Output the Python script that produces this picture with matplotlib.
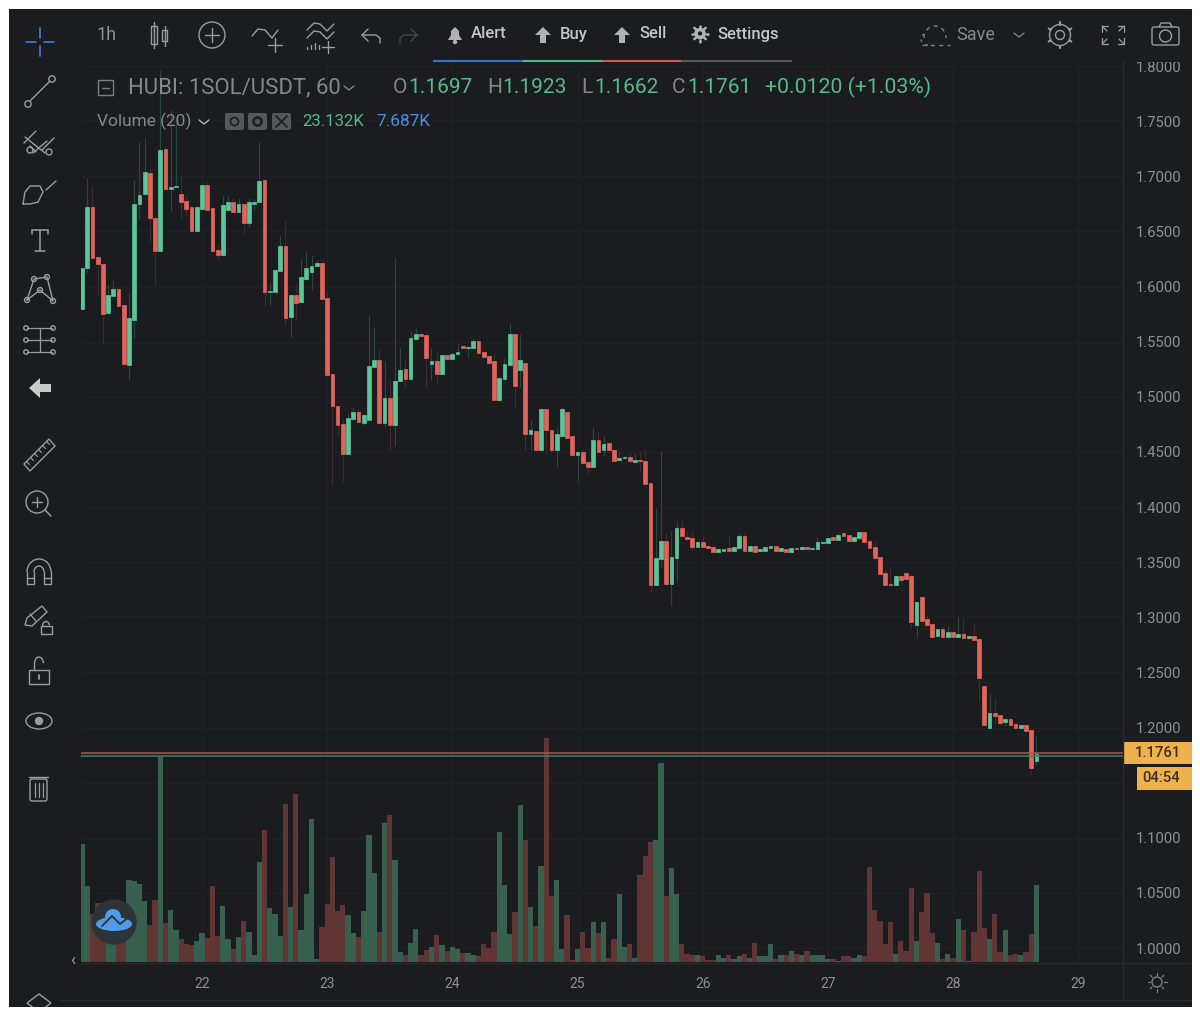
import numpy as np
import matplotlib
matplotlib.use("Agg")
import matplotlib.pyplot as plt
from matplotlib.patches import Rectangle, Circle, FancyBboxPatch, Polygon, Ellipse, Arc

plt.rcParams['font.family'] = ['Roboto', 'DejaVu Sans']

opens = [1.580,1.6165,1.672,1.627,1.620,1.576,1.591,1.598,1.583,1.529,
1.570,1.675,1.684,1.703,1.662,1.632,1.725,1.688,1.690,1.684,
1.678,1.672,1.650,1.670,1.692,1.671,1.633,1.629,1.669,1.677,
1.668,1.675,1.658,1.675,1.677,1.697,1.595,1.595,1.614,1.637,
1.572,1.592,1.586,1.607,1.613,1.619,1.621,1.590,1.521,1.492,
1.475,1.448,1.480,1.486,1.476,1.479,1.527,1.533,1.476,1.499,
1.474,1.514,1.525,1.516,1.552,1.557,1.556,1.530,1.532,1.521,
1.538,1.534,1.539,1.546,1.544,1.544,1.551,1.541,1.537,1.532,
1.497,1.516,1.529,1.557,1.524,1.531,1.466,1.469,1.452,1.489,
1.470,1.452,1.464,1.486,1.464,1.447,1.450,1.441,1.436,1.461,
1.452,1.458,1.452,1.443,1.444,1.445,1.441,1.443,1.442,1.4215,
1.329,1.353,1.369,1.330,1.354,1.381,1.373,1.372,1.364,1.368,
1.365,1.364,1.359,1.360,1.363,1.360,1.363,1.374,1.360,1.365,
1.360,1.360,1.363,1.365,1.360,1.362,1.359,1.363,1.362,1.364,
1.362,1.362,1.367,1.367,1.373,1.370,1.376,1.375,1.369,1.372,
1.377,1.369,1.364,1.355,1.340,1.330,1.329,1.337,1.340,1.337,
1.293,1.318,1.298,1.294,1.283,1.289,1.282,1.287,1.282,1.285,
1.281,1.283,1.280,1.238,1.200,1.213,1.211,1.205,1.208,1.203,
1.200,1.202,1.198,1.1697]
closes = [1.6165,1.672,1.626,1.620,1.575,1.592,1.598,1.582,1.530,1.571,
1.675,1.683,1.704,1.662,1.632,1.724,1.688,1.690,1.691,1.677,
1.670,1.650,1.672,1.692,1.669,1.632,1.629,1.674,1.677,1.668,
1.675,1.658,1.677,1.677,1.696,1.595,1.596,1.615,1.637,1.571,
1.592,1.585,1.609,1.617,1.619,1.621,1.589,1.520,1.492,1.474,
1.448,1.481,1.486,1.477,1.483,1.528,1.533,1.476,1.499,1.474,
1.514,1.524,1.516,1.553,1.557,1.555,1.535,1.532,1.521,1.538,
1.534,1.539,1.541,1.544,1.545,1.551,1.540,1.536,1.531,1.497,
1.517,1.530,1.557,1.510,1.533,1.466,1.470,1.452,1.489,1.470,
1.452,1.466,1.489,1.463,1.447,1.450,1.440,1.436,1.461,1.450,
1.457,1.452,1.442,1.444,1.445,1.442,1.443,1.442,1.421,1.329,
1.354,1.369,1.330,1.355,1.381,1.374,1.371,1.364,1.368,1.364,
1.363,1.359,1.362,1.362,1.360,1.364,1.374,1.360,1.365,1.359,
1.362,1.364,1.365,1.360,1.363,1.359,1.363,1.362,1.364,1.362,
1.363,1.368,1.368,1.372,1.370,1.375,1.374,1.369,1.373,1.377,
1.368,1.363,1.354,1.339,1.329,1.329,1.337,1.334,1.335,1.296,
1.314,1.297,1.293,1.282,1.289,1.282,1.287,1.282,1.285,1.281,
1.283,1.279,1.245,1.202,1.213,1.210,1.204,1.208,1.202,1.200,
1.202,1.197,1.163,1.1761]
highs = [1.6165,1.698,1.690,1.628,1.620,1.601,1.606,1.598,1.583,1.594,
1.697,1.731,1.735,1.708,1.662,1.796,1.727,1.760,1.755,1.701,
1.683,1.672,1.672,1.692,1.695,1.671,1.639,1.682,1.682,1.680,
1.680,1.676,1.680,1.679,1.731,1.697,1.603,1.615,1.646,1.660,
1.592,1.602,1.625,1.631,1.629,1.624,1.621,1.594,1.521,1.492,
1.480,1.484,1.491,1.489,1.484,1.574,1.563,1.544,1.532,1.514,
1.626,1.544,1.534,1.559,1.562,1.558,1.556,1.544,1.541,1.538,
1.538,1.540,1.549,1.546,1.546,1.552,1.551,1.541,1.538,1.539,
1.517,1.535,1.567,1.557,1.557,1.531,1.480,1.469,1.491,1.489,
1.470,1.473,1.491,1.486,1.464,1.450,1.452,1.441,1.473,1.468,
1.464,1.458,1.452,1.451,1.446,1.449,1.449,1.450,1.452,1.4215,
1.399,1.451,1.376,1.378,1.387,1.387,1.378,1.378,1.368,1.374,
1.365,1.364,1.362,1.362,1.375,1.364,1.376,1.376,1.365,1.365,
1.362,1.364,1.365,1.365,1.363,1.362,1.363,1.363,1.364,1.364,
1.363,1.373,1.368,1.372,1.374,1.376,1.377,1.375,1.373,1.378,
1.377,1.370,1.370,1.355,1.344,1.346,1.338,1.338,1.341,1.339,
1.314,1.318,1.302,1.294,1.289,1.291,1.292,1.287,1.3005,1.299,
1.283,1.294,1.280,1.238,1.230,1.227,1.212,1.209,1.209,1.204,
1.202,1.202,1.198,1.1923]
lows = [1.580,1.612,1.626,1.592,1.548,1.575,1.591,1.582,1.529,1.515,
1.553,1.660,1.683,1.640,1.601,1.632,1.688,1.668,1.690,1.661,
1.663,1.650,1.650,1.670,1.669,1.632,1.624,1.629,1.669,1.668,
1.668,1.647,1.654,1.669,1.677,1.582,1.583,1.595,1.614,1.565,
1.554,1.570,1.586,1.607,1.597,1.619,1.589,1.520,1.420,1.464,
1.423,1.448,1.480,1.477,1.474,1.479,1.527,1.476,1.473,1.452,
1.455,1.514,1.508,1.516,1.552,1.555,1.508,1.515,1.512,1.521,
1.534,1.534,1.539,1.544,1.536,1.544,1.540,1.536,1.531,1.497,
1.497,1.516,1.529,1.489,1.508,1.452,1.452,1.452,1.452,1.450,
1.450,1.436,1.464,1.463,1.447,1.424,1.440,1.429,1.436,1.450,
1.446,1.452,1.442,1.443,1.444,1.442,1.441,1.432,1.421,1.322,
1.329,1.346,1.330,1.310,1.332,1.374,1.369,1.361,1.364,1.364,
1.363,1.359,1.359,1.360,1.360,1.360,1.363,1.360,1.360,1.359,
1.360,1.360,1.363,1.360,1.360,1.359,1.359,1.362,1.362,1.362,
1.362,1.362,1.367,1.367,1.370,1.370,1.374,1.369,1.369,1.372,
1.368,1.363,1.354,1.339,1.329,1.329,1.329,1.331,1.335,1.290,
1.281,1.297,1.292,1.282,1.283,1.282,1.282,1.282,1.282,1.281,
1.281,1.279,1.223,1.202,1.200,1.204,1.202,1.201,1.202,1.200,
1.200,1.197,1.158,1.1662]
volumes = [35.5,22.7,14.5,17.7,17.7,13.5,12,12.5,13,24.7,
24.3,23.5,18.2,11.2,18.5,61.8,11.7,15.7,9.5,7,
5.5,5,6.3,8.7,7.1,22.8,7.9,16.8,7,3.8,
7.5,12.4,9.1,2,30.1,39.7,16.1,14.5,7.9,47.4,
16.5,50.4,9.5,20.3,42.9,0.8,10.4,17.5,31.4,15.3,
17,14.1,8.7,7.5,15.3,38,26.8,9.1,41.7,44.1,
30.5,2.9,2.2,5.8,9.8,2,3.7,4.5,8.2,5,
3.3,4.5,3.8,2.8,2.8,2,1.7,5.4,4.2,9.1,
39.1,23.1,8.3,14.9,47,36.7,16.5,10.7,28.9,67.1,
19.8,24.7,3.8,14,0.5,3.8,9.1,4.1,12,8.7,
12,1.3,7,20.3,4.5,5.4,1.3,26,31.8,35.9,
36.7,59.7,19.8,28.1,20.3,5.4,2.5,2.1,2.1,1.7,
0.5,0.5,2.1,1.3,2.1,0.9,1.7,2.5,1.3,5.8,
1.7,1.7,5.3,0.8,2.1,2.1,3.3,2.5,2.1,3.3,
2.1,2.1,2.1,0.9,0.9,0.4,1.7,1.7,1.3,2.1,
1.7,28.5,15.7,12.4,5.4,12,2.5,6.2,3.3,22.3,
6.2,14.9,20.6,8.7,5.8,0.8,2.5,1.3,12.8,9.5,
0.4,9.1,27.2,10.3,7,14.4,2.9,9.5,2.1,2.5,
2.1,2.9,8.3,23.132]
price_ticks = [1.00,1.05,1.10,1.15,1.20,1.25,1.30,1.35,1.40,1.45,1.50,1.55,1.60,1.65,1.70,1.75,1.80]
price_tick_labels = ['1.0000','1.0500','1.1000','','1.2000','1.2500','1.3000','1.3500','1.4000',
                     '1.4500','1.5000','1.5500','1.6000','1.6500','1.7000','1.7500','1.8000']
day_labels = [22,23,24,25,26,27,28,29]
day_hours = [23,47,71,95,119,143,167,191]
last_close = 1.1761
close_line = 1.1770
open_line = 1.1745

BG = '#1a1c1f'; GRID = '#202326'; TXT = '#8d9094'; ICON = '#9a9c9f'
UP = '#5cc59a'; DOWN = '#e2645b'; UPW = '#2a473d'; DOWNW = '#452a2a'
UPV = '#37604f'; DOWNV = '#613534'

W, H = 1200, 1017
fig = plt.figure(figsize=(12, 10.17), dpi=100, facecolor='white')

def rect(l, t, r, b):
    return [l/W, 1-b/H, (r-l)/W, (b-t)/H]

bg = fig.add_axes([0,0,1,1], zorder=0)
bg.set_xlim(0,W); bg.set_ylim(H,0); bg.axis('off')
bg.add_patch(Rectangle((9,9),1183,998,fc=BG,ec='none'))

L,T,R,B = 81,62,1123,962
pos = rect(L,T,R,B)
xlim = (23+(L-202)/5.2155, 23+(R-202)/5.2155)
ylim = (1.8-(B-66)/1102.5, 1.8-(T-66)/1102.5)

ax = fig.add_axes(pos, zorder=1)
ax.patch.set_alpha(0)
ax.set_xlim(*xlim); ax.set_ylim(*ylim)
ax.yaxis.tick_right()
ax.set_yticks(price_ticks)
ax.set_yticklabels(price_tick_labels, color=TXT, fontsize=10.7)
ax.set_xticks(day_hours)
ax.set_xticklabels(day_labels, color=TXT, fontsize=10)
ax.tick_params(axis='y', length=0, pad=9)
ax.tick_params(axis='x', length=0, pad=10.5)
ax.grid(True, color=GRID, lw=0.9)
ax.set_axisbelow(True)
for s in ax.spines.values():
    s.set_visible(False)

xs = np.arange(len(closes))
o = np.array(opens); c = np.array(closes); h = np.array(highs); l_ = np.array(lows)
up = c >= o

axv = fig.add_axes(pos, zorder=2)
axv.patch.set_alpha(0); axv.axis('off')
axv.set_xlim(*xlim); axv.set_ylim(0, (B-T)/(10/3))
axv.bar(xs, volumes, width=1.0, color=[UPV if u else DOWNV for u in up], linewidth=0)

axc = fig.add_axes(pos, zorder=3)
axc.patch.set_alpha(0); axc.axis('off')
axc.set_xlim(*xlim); axc.set_ylim(*ylim)
axc.vlines(xs, l_, h, colors=[UPW if u else DOWNW for u in up], linewidth=0.85, zorder=1)
axc.bar(xs, np.abs(c-o), bottom=np.minimum(o,c), width=0.72,
        color=[UP if u else DOWN for u in up],
        edgecolor=[UP if u else DOWN for u in up], linewidth=0.5, zorder=2)
axc.axhline(close_line, color='#a65a4b', lw=1.1, zorder=3)
axc.axhline(open_line, color='#3f8063', lw=1.1, zorder=3)

ov = fig.add_axes([0,0,1,1], zorder=4)
ov.set_xlim(0,W); ov.set_ylim(H,0); ov.axis('off'); ov.patch.set_alpha(0)

# toolbar masks
ov.add_patch(Rectangle((9,9),1183,53,fc=BG,ec='none'))
ov.add_patch(Rectangle((9,9),72,998,fc=BG,ec='none'))
ov.plot([R,R],[62,1000],color='#292c2f',lw=1)
ov.plot([60,1190],[1000,1000],color='#2b2e31',lw=1)
ov.plot([81,1190],[963,963],color='#26292c',lw=1)

def ln(xs_, ys_, col=ICON, lw=1.0, **k):
    ov.plot(xs_, ys_, color=col, lw=lw, solid_capstyle='round', solid_joinstyle='round', **k)
def circ(x,y,r,col=ICON,lw=1.0,fill=False):
    ov.add_patch(Circle((x,y),r,fc=col if fill else 'none',ec=col,lw=lw))
def box(x,y,w,h_,col=ICON,lw=1.0,fill=False):
    ov.add_patch(Rectangle((x,y),w,h_,fc=col if fill else 'none',ec=col,lw=lw))
def txt(x,y,s,col=TXT,size=10,ha='left',weight='normal'):
    ov.text(x,y,s,color=col,fontsize=size,ha=ha,va='center',fontweight=weight)

# underlines
for x0,x1,col in [(434,523,'#3a6fc4'),(524,601,'#4fb58a'),(603,680,'#d3584f'),(682,791,'#55585c')]:
    ov.plot([x0,x1],[60.5,60.5],color=col,lw=1.5)

# top toolbar
txt(96,35,'1h',size=13)
box(151,26,6,18); ln([154,154],[22,48]); box(162,30,5,11); ln([164.5,164.5],[26,46])
circ(212,35,13); ln([205,219],[35,35]); ln([212,212],[28,42])
ln([252,258,265,272,278],[36,29,30,38,30]); ln([268,282],[45,45]); ln([275,275],[38,52])
for dy in (0,8):
    ln([307,314,320,327,334],[30+dy,23+dy,24+dy,31+dy,24+dy])
ln([322,334],[47,47]); ln([328,328],[41,53])
for xx,yy in [(307,47),(311,45),(315,43),(319,45)]:
    ln([xx,xx],[yy,49])
ln([362,368],[35,29]); ln([362,368],[35,41]); ln([362,376,380,380],[35,35,38,43])
ln([417,411],[35,29],col='#45484b'); ln([417,411],[35,41],col='#45484b'); ln([417,404,400,400],[35,35,38,43],col='#45484b')
# bell
ov.add_patch(Polygon([(448,40),(451,35),(451,31),(455,27),(459,31),(459,35),(462,40)],fc='#b0b2b4',ec='none'))
circ(455,42,1.5,col='#b0b2b4',fill=True)
txt(471,34,'Alert',col='#c4c6c8',size=12,weight='medium')
for ax0 in (543,622):
    ov.add_patch(Polygon([(ax0,27),(ax0+8,35),(ax0+3,35),(ax0+3,43),(ax0-3,43),(ax0-3,35),(ax0-8,35)],fc='#b0b2b4',ec='none'))
txt(560,34,'Buy',col='#c4c6c8',size=12,weight='medium')
txt(639,34,'Sell',col='#c4c6c8',size=12,weight='medium')
circ(700,33.5,4,col='#b0b2b4',lw=2.6)
for a in np.arange(0,360,45):
    ln([700+6*np.cos(np.radians(a)),700+8*np.cos(np.radians(a))],[33.5+6*np.sin(np.radians(a)),33.5+8*np.sin(np.radians(a))],col='#b0b2b4',lw=1.8)
txt(717,34,'Settings',col='#c4c6c8',size=12,weight='medium')
# cloud dashed
ov.add_patch(Arc((935,38),22,24,theta1=180,theta2=360,ec='#7d7f82',lw=1,ls=(0,(3,3))))
ov.plot([922,950],[45,45],color='#7d7f82',lw=1,ls=(0,(3,3)))
ov.add_patch(Arc((928,39),14,12,theta1=90,theta2=230,ec='#7d7f82',lw=1,ls=(0,(2,3))))
txt(956,35,'Save',size=13,col='#85888b')
ln([1014,1019,1024],[33,37,33],col='#7d7f82')
circ(1060,35,4.5); circ(1060,35,10.5,lw=1,col=ICON)
for a in np.arange(0,360,60):
    r0=10.5; r1=13
    ln([1060+r0*np.cos(np.radians(a+30)),1060+r1*np.cos(np.radians(a+30))],[35+r0*np.sin(np.radians(a+30)),35+r1*np.sin(np.radians(a+30))],lw=1.6)
for sx,sy in [(-1,-1),(1,-1),(-1,1),(1,1)]:
    cx=1113+sx*11; cy=35+sy*9
    ln([cx-sx*6,cx,cx],[cy,cy,cy-sy*6],lw=0.9)
    ln([cx,cx-sx*5],[cy,cy-sy*5],lw=0.9)
ov.add_patch(FancyBboxPatch((1152,27),27,18,boxstyle='round,pad=0,rounding_size=2',fc='none',ec=ICON,lw=1))
ln([1159,1161,1170,1172],[27,23,23,27]); circ(1165.5,36,6)

# left toolbar
for seg in [([40,40],[28,38]),([40,40],[46,56]),([26,36],[42,42]),([44,54],[42,42])]:
    ln(seg[0],seg[1],col='#3f78c8',lw=1.3)
ln([30,50],[101,81]); circ(28,104,3.2); circ(52,79,3.2)
ln([24,36],[143,131]); ln([33,47],[153,141]); ln([42,54],[150,138]); ln([25,45],[137,153]); circ(30,150,3); circ(49,152,3); ln([30,36],[146,152])
ln([23,25,30,40,43,38,30,23],[204,192,186,186,192,202,204,204]); ln([46,56],[190,181])
ln([32,48],[230,230],lw=1.1); ln([40,40],[230,251],lw=1.1); ln([32,32],[230,234],lw=1.1); ln([48,48],[230,234],lw=1.1); ln([35,45],[251,251],lw=1.1)
pts=[(27,300),(34,279),(47,277),(53,301),(40,290),(27,300)]
ln([p[0] for p in pts],[p[1] for p in pts])
for p in pts[:5]: circ(p[0],p[1],2.5)
for yy in (328,340,352):
    ln([27,52],[yy,yy],lw=0.9)
for xx,yy in [(26,328),(53,328),(26,340),(53,340),(26,352),(53,352)]:
    circ(xx,yy,2.2)
ln([40,40],[328,352],lw=0.9)
ov.add_patch(Polygon([(29,388),(40,378),(40,384),(51,384),(51,392),(40,392),(40,398)],fc='#c8cacc',ec='none'))
ov.add_patch(Polygon([(24,464),(49,439),(55,446),(30,471)],fc='none',ec=ICON,lw=1))
for t in np.linspace(0.1,0.9,6):
    x0=24+25*t; y0=464-25*t
    ln([x0,x0+3],[y0,y0+3],lw=0.8)
circ(37,502,11); ln([45,51],[510,516],lw=1.1); ln([32,42],[502,502]); ln([37,37],[497,507])
ov.add_patch(Arc((39,572),24,26,theta1=180,theta2=360,ec=ICON,lw=1))
ov.add_patch(Arc((39,572),10,12,theta1=180,theta2=360,ec=ICON,lw=1))
ln([27,27,34,34],[572,584,584,572]); ln([44,44,51,51],[572,584,584,572]); ln([27,34],[578,578]); ln([44,51],[578,578])
ov.add_patch(Polygon([(25,625),(27,618),(42,606),(47,612),(32,626)],fc='none',ec=ICON,lw=1))
ln([30,36],[614,621],lw=0.9)
box(41,626,11,8); ov.add_patch(Arc((46,626),7,9,theta1=180,theta2=350,ec=ICON,lw=1))
box(29,670,20,14); ov.add_patch(Arc((39,664),9,14,theta1=180,theta2=350,ec=ICON,lw=1)); ln([34,34],[664,670])
ln([39,39],[675,679],lw=1.3)
ov.add_patch(Ellipse((39,721),26,16,fc='none',ec=ICON,lw=1)); circ(39,721,3.5,fill=True)
ov.add_patch(FancyBboxPatch((30,779),17,22,boxstyle='round,pad=0,rounding_size=2',fc='none',ec=ICON,lw=1))
ln([29,48],[777,777]); 
for xx in (35,39,43): ln([xx,xx],[783,797],lw=0.9)
ov.add_patch(Polygon([(27,1003),(39,994),(51,1003),(39,1012)],fc='none',ec=ICON,lw=1))
ov.add_patch(Rectangle((0,1007),1200,10,fc='white',ec='none'))

# legend
box(98,80,15,15,col='#7d7f82',lw=1); ln([102,109],[87.5,87.5],col='#7d7f82')
txt(128,87.5,'HUBI: 1SOL/USDT, 60',size=15.9,col='#85888b')
ln([344,349,354],[86,90,86],col='#85888b')
GR='#57b98d'
for x0,label,val,x1 in [(393,'O','1.1697',408),(487,'H','1.1923',502),(581,'L','1.1662',594),(672,'C','1.1761',687)]:
    txt(x0,87.5,label,size=15,col='#85888b'); txt(x1,87.5,val,size=15,col=GR)
txt(765,87.5,'+0.0120 (+1.03%)',size=15.3,col=GR)
txt(97,121.5,'Volume (20)',size=12.4,col='#85888b')
ln([199,204,209],[120,124,120],col='#b0b2b4')
for x0 in (225,248,272):
    ov.add_patch(FancyBboxPatch((x0,113),19,17,boxstyle='round,pad=0,rounding_size=2',fc='#55585b',ec='none'))
circ(234.5,121.5,4,col='#1f2124',lw=1.4); circ(257.5,121.5,4,col='#1f2124',lw=2)
ln([276,287],[116,127],col='#1f2124',lw=1.4); ln([287,276],[116,127],col='#1f2124',lw=1.4)
txt(302,121.5,'23.132K',size=12.1,col=GR)
txt(376,121.5,'7.687K',size=12.4,col='#4a90e2')

# price flags
LBL='#efb14c'
ov.add_patch(Rectangle((1123,742),69,22,fc=LBL,ec='none'))
ov.add_patch(Rectangle((1137,767),55,23,fc=LBL,ec='none'))
txt(1158,753,f'{last_close:.4f}',col='#3b3020',size=10.7,ha='center',weight='medium')
txt(1161,778,'04:54',col='#3b3020',size=10.7,ha='center',weight='medium')

# logo and misc
circ(114,922,22,col='#2e3339',fill=True)
ov.add_patch(Ellipse((114,924),36,14,fc='#4f9ce8',ec='none'))
ov.add_patch(Circle((113,917),8,fc='#4f9ce8',ec='none'))
ln([102,112,120,130],[926,916,924,916],col='#2e3339',lw=1.4)
txt(73,961,'‹',size=12,ha='center',col='#9a9c9f')
circ(1157,982,5,col='#7d7f82')
for a in np.arange(0,360,45):
    ln([1157+7*np.cos(np.radians(a)),1157+9.5*np.cos(np.radians(a))],[982+7*np.sin(np.radians(a)),982+9.5*np.sin(np.radians(a))],col='#7d7f82',lw=0.9)

fig.savefig('out.png', dpi=100, facecolor='white')
